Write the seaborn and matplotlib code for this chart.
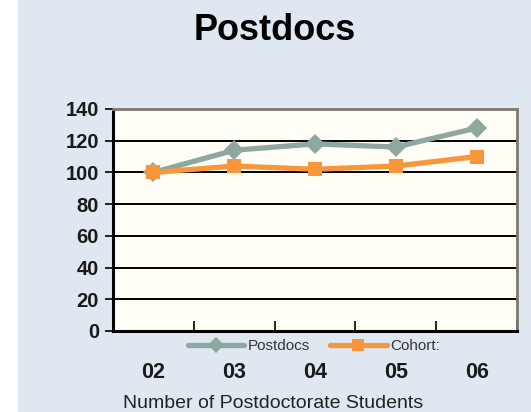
import matplotlib
matplotlib.use("Agg")
import matplotlib.pyplot as plt
import seaborn as sns
import pandas as pd
from matplotlib.patches import Rectangle
from matplotlib.ticker import FixedLocator

years = ["02", "03", "04", "05", "06"]
postdocs = [100, 114, 118, 116, 128]
cohort = [100, 104, 102, 104, 110]
series_names = ["Postdocs", "Cohort:"]
y_ticks = [0, 20, 40, 60, 80, 100, 120, 140]

sns.set_theme(style="white")
plt.rcParams["font.family"] = ["Liberation Sans", "DejaVu Sans"]

df = pd.DataFrame({
    "year": years * 2,
    "pos": list(range(len(years))) * 2,
    "value": postdocs + cohort,
    "series": [series_names[0]] * len(years) + [series_names[1]] * len(years),
})

bg = "#dfe7f1"
fig = plt.figure(figsize=(5.31, 4.12), dpi=100, facecolor=bg)
fig.patches.append(Rectangle((0, 0), 18 / 531, 1, transform=fig.transFigure,
                             facecolor="white", edgecolor="none", zorder=0))
ax = fig.add_axes([113 / 531, 1 - 331 / 412, (517 - 113) / 531, (331 - 109) / 412])
ax.set_facecolor("#fffdf6")

palette = {series_names[0]: "#8ea79f", series_names[1]: "#f7963a"}
markers = {series_names[0]: "D", series_names[1]: "s"}
sns.lineplot(data=df, x="pos", y="value", hue="series", style="series",
             palette=palette, markers=markers, dashes=False, linewidth=3.8,
             markersize=10, markeredgewidth=0, ax=ax, legend=True, zorder=3)

ax.set_ylim(0, 140)
ax.set_xlim(-0.5, len(years) - 0.5)
ax.set_yticks(y_ticks)
ax.set_yticklabels([str(v) for v in y_ticks], fontsize=14.5, fontweight="bold",
                   color="#1a1a1a")
ax.yaxis.grid(True, color="black", linewidth=1.4)
ax.set_axisbelow(True)
ax.tick_params(axis="y", which="major", direction="out", length=6, width=1.2,
               color="black", left=True, pad=4)

ax.set_xticks(range(len(years)))
ax.set_xticklabels(years, fontsize=15.5, fontweight="bold", color="#1a1a1a")
ax.tick_params(axis="x", which="major", length=0, pad=22)
ax.xaxis.set_minor_locator(FixedLocator([i + 0.5 for i in range(-1, len(years))]))
ax.tick_params(axis="x", which="minor", direction="in", length=7, width=1.2,
               color="black", bottom=True)

for s in ["left", "bottom"]:
    ax.spines[s].set_color("black")
    ax.spines[s].set_linewidth(2.2)
for s in ["top", "right"]:
    ax.spines[s].set_color("#7d776d")
    ax.spines[s].set_linewidth(2.0)

ax.set_xlabel("Number of Postdoctorate Students", fontsize=14, color="#222222",
              va="center")
ax.xaxis.set_label_coords((273 - 113) / 404, (331 - 404) / 222)
ax.set_ylabel("")

handles, labels = ax.get_legend_handles_labels()
for h in handles:
    h.set_markersize(8)
leg = ax.legend(handles, labels, loc="center", bbox_to_anchor=(314 / 531, 1 - 346 / 412),
                bbox_transform=fig.transFigure, ncol=2, frameon=False, fontsize=11,
                handlelength=3.7, handletextpad=0.25, columnspacing=1.3, borderpad=0)
for t in leg.get_texts():
    t.set_color("#333333")

fig.text(275 / 531, 1 - 30 / 412, "Postdocs", ha="center", va="center",
         fontsize=26, fontweight="bold", color="black")

fig.savefig("out.png", dpi=100, facecolor=bg)
